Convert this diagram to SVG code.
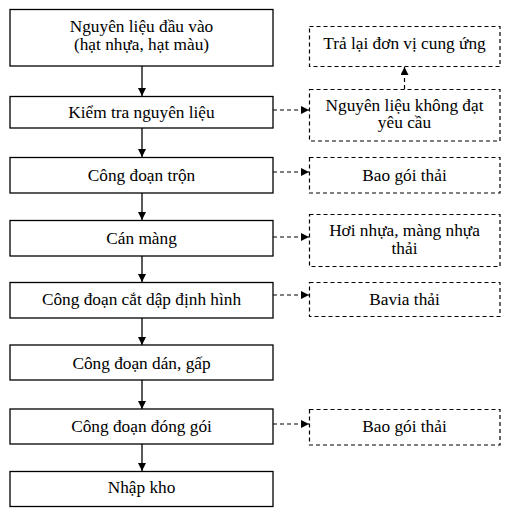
<svg xmlns="http://www.w3.org/2000/svg" width="515" height="514" viewBox="0 0 515 514">
<style>
.box{fill:#fff;stroke:#000;stroke-width:1.3}
.dbox{fill:#fff;stroke:#000;stroke-width:1.2;stroke-dasharray:4 3}
text{font-family:"Liberation Serif","Times New Roman","DejaVu Serif",serif;font-size:17.3px;fill:#000;text-anchor:middle}
.ln{stroke:#000;stroke-width:1.3;fill:none}
.dl{stroke:#000;stroke-width:1.2;fill:none;stroke-dasharray:4 3}
</style>
<defs>
<marker id="ah" viewBox="0 0 10 10" refX="10" refY="5" markerWidth="8" markerHeight="8" markerUnits="userSpaceOnUse" orient="auto">
<path d="M0,0 L10,5 L0,10 z" fill="#000"/>
</marker>
</defs>
<rect width="515" height="514" fill="#fff"/>
<g id="connectors">
<line class="ln" x1="142" y1="66" x2="142" y2="96" marker-end="url(#ah)"/>
<line class="ln" x1="142" y1="128" x2="142" y2="157" marker-end="url(#ah)"/>
<line class="ln" x1="142" y1="193" x2="142" y2="220" marker-end="url(#ah)"/>
<line class="ln" x1="142" y1="256" x2="142" y2="282" marker-end="url(#ah)"/>
<line class="ln" x1="142" y1="318" x2="142" y2="345" marker-end="url(#ah)"/>
<line class="ln" x1="142" y1="380" x2="142" y2="409" marker-end="url(#ah)"/>
<line class="ln" x1="142" y1="444" x2="142" y2="471" marker-end="url(#ah)"/>
<line class="dl" x1="273" y1="110" x2="309" y2="110" marker-end="url(#ah)"/>
<line class="dl" x1="273" y1="172" x2="309" y2="172" marker-end="url(#ah)"/>
<line class="dl" x1="273" y1="237" x2="309" y2="237" marker-end="url(#ah)"/>
<line class="dl" x1="273" y1="295" x2="309" y2="295" marker-end="url(#ah)"/>
<line class="dl" x1="273" y1="424" x2="309" y2="424" marker-end="url(#ah)"/>
<line class="dl" x1="404.5" y1="89" x2="404.5" y2="67" marker-end="url(#ah)"/>
</g>
<g id="n1"><rect class="box" x="10" y="9.5" width="263" height="56.5"/><text x="141.5" y="32">Nguyên liệu đầu vào</text><text x="141.5" y="49.5">(hạt nhựa, hạt màu)</text></g>
<g id="n2"><rect class="box" x="10" y="96.5" width="263" height="31.5"/><text x="141.5" y="117.5">Kiểm tra nguyên liệu</text></g>
<g id="n3"><rect class="box" x="10" y="157.5" width="263" height="35.5"/><text x="141.5" y="180.5">Công đoạn trộn</text></g>
<g id="n4"><rect class="box" x="10" y="220.5" width="263" height="35.5"/><text x="141.5" y="243.5">Cán màng</text></g>
<g id="n5"><rect class="box" x="10" y="282.5" width="263" height="35.5"/><text x="141.5" y="305">Công đoạn cắt dập định hình</text></g>
<g id="n6"><rect class="box" x="10" y="345" width="263" height="35"/><text x="141.5" y="369">Công đoạn dán, gấp</text></g>
<g id="n7"><rect class="box" x="10" y="409" width="263" height="35"/><text x="141.5" y="432">Công đoạn đóng gói</text></g>
<g id="n8"><rect class="box" x="10" y="471.5" width="263" height="35"/><text x="141.5" y="492.7">Nhập kho</text></g>
<g id="r1"><rect class="dbox" x="309.5" y="26.5" width="190.5" height="40"/><text x="404.5" y="49">Trả lại đơn vị cung ứng</text></g>
<g id="r2"><rect class="dbox" x="309.5" y="89.5" width="190.5" height="51.5"/><text x="404.5" y="110.5">Nguyên liệu không đạt</text><text x="404.5" y="128">yêu cầu</text></g>
<g id="r3"><rect class="dbox" x="309.5" y="157.5" width="190.5" height="35.5"/><text x="404.5" y="180.5">Bao gói thải</text></g>
<g id="r4"><rect class="dbox" x="309.5" y="214.5" width="190.5" height="52"/><text x="404.5" y="235.7">Hơi nhựa, màng nhựa</text><text x="404.5" y="253.5">thải</text></g>
<g id="r5"><rect class="dbox" x="309.5" y="282.5" width="190.5" height="34"/><text x="404.5" y="305">Bavia thải</text></g>
<g id="r6"><rect class="dbox" x="309.5" y="409.5" width="190.5" height="35.5"/><text x="404.5" y="432">Bao gói thải</text></g>
</svg>
